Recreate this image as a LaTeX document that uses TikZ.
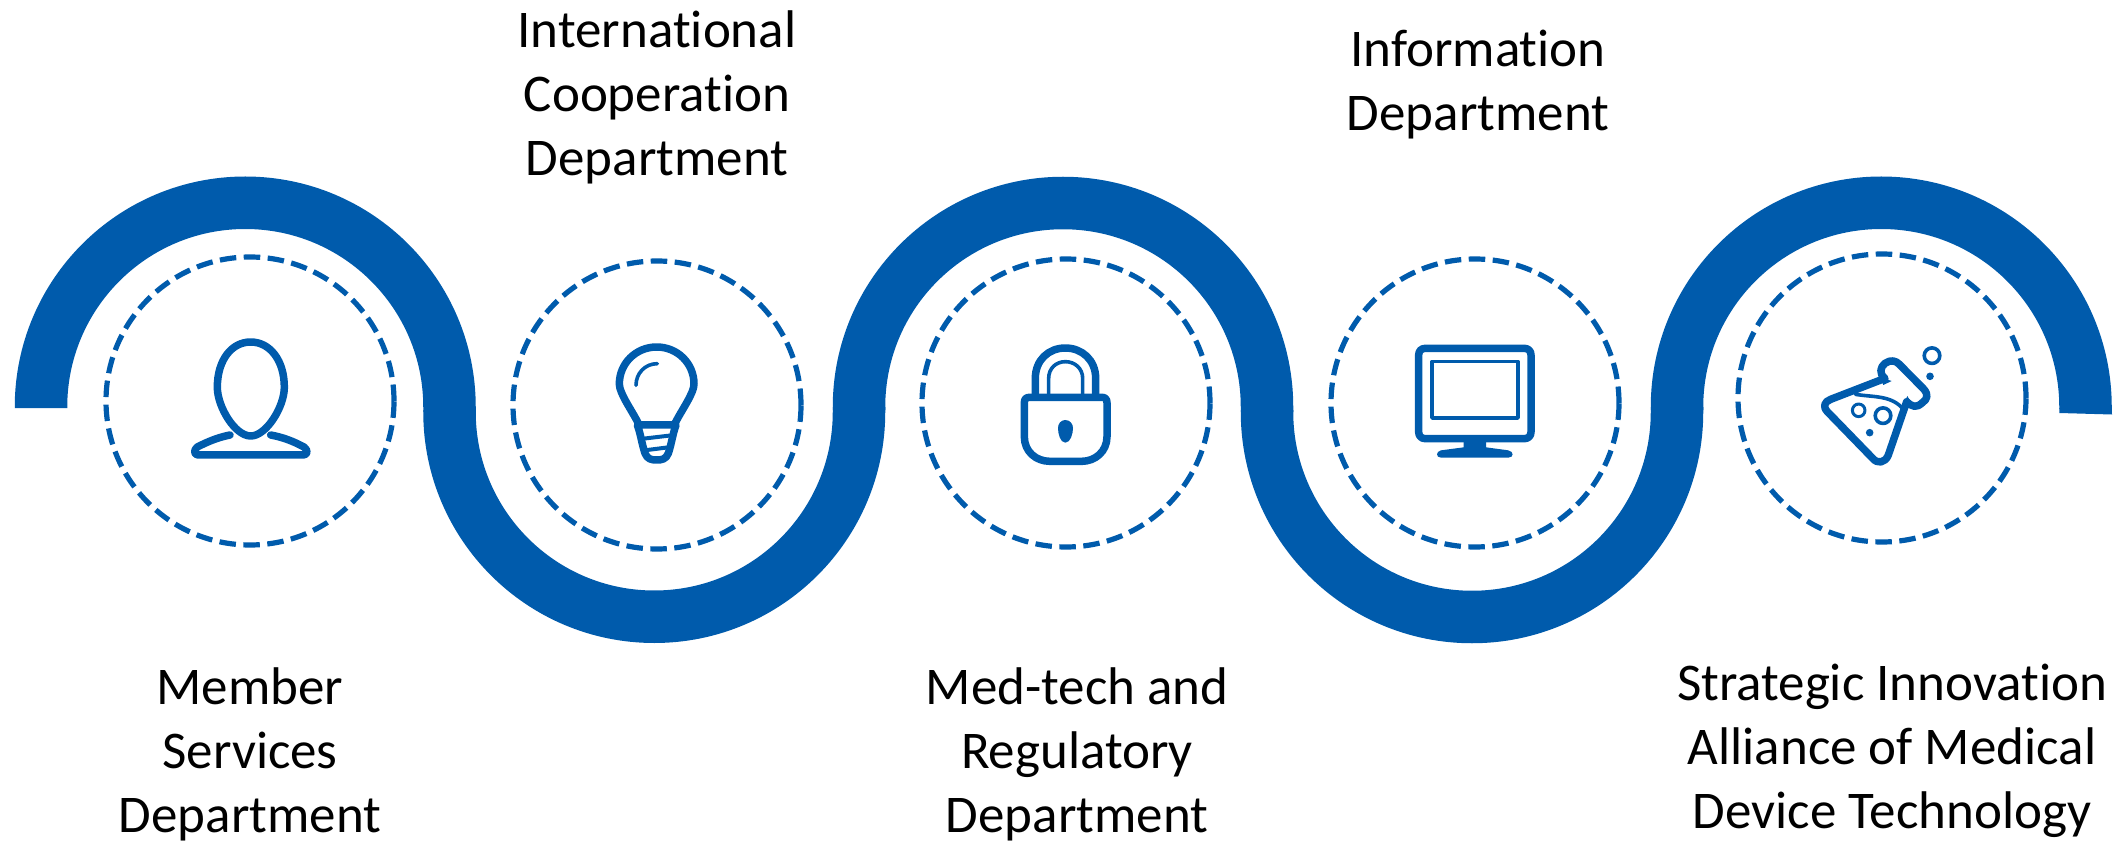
\documentclass[tikz,border=0pt]{standalone}
\usepackage{fontspec}
\setmainfont{Carlito}[Ligatures={NoCommon,NoContextual},RawFeature={-liga;-clig;-dlig;-calt}]
\definecolor{bandblue}{HTML}{005BAC}
\tikzset{
 band/.style={draw=bandblue,line width=52.5pt},
 dashring/.style={draw=bandblue,line width=5.2pt,dash pattern=on 16.5pt off 7.5pt},
 label/.style={align=center,text=black,inner sep=0pt,font=\fontsize{53pt}{64pt}\selectfont},
 icon/.style={draw=bandblue,line width=7.5pt,line join=round,line cap=round},
 iconthin/.style={draw=bandblue,line width=3.6pt,line join=round,line cap=round},
 iconfill/.style={fill=bandblue,draw=none},
 zoomA/.style={shift={(150,300)},x=0.33333pt,y=-0.33333pt},
 zoomB/.style={shift={(560,310)},x=0.33333pt,y=-0.33333pt},
 zoomC/.style={shift={(970,310)},x=0.33333pt,y=-0.33333pt},
 zoomD/.style={shift={(1390,310)},x=0.33333pt,y=-0.33333pt},
 zoomE/.style={shift={(1790,320)},x=0.33333pt,y=-0.33333pt},
}
\begin{document}
\begin{tikzpicture}[x=1pt,y=-1pt]
\useasboundingbox (0,0) rectangle (2118,842);
% ribbon
\draw[band] (41,408) -- (41,407) arc[start angle=180,end angle=0,radius=204.25pt] -- (449.5,412);
\draw[band] (449.5,410) -- (449.5,412) arc[start angle=180,end angle=360,radius=204.75pt] -- (859,407);
\draw[band] (859,410) -- (859,407) arc[start angle=180,end angle=0,radius=204pt] -- (1267,412);
\draw[band] (1267,410) -- (1267,412) arc[start angle=180,end angle=360,radius=205pt] -- (1677,407);
\draw[band] (1677,410) -- (1677,407) arc[start angle=180,end angle=0,radius=204.25pt] -- (2085.5,409);
\fill[bandblue] (2059.25,408) -- (2111.75,408) -- (2112,414.5) -- (2059.25,413) -- cycle;
% dashed rings
\node[dashring,circle,minimum size=288pt,inner sep=0pt] (r1) at (250,401) {};
\node[dashring,circle,minimum size=288pt,inner sep=0pt] (r2) at (657,405) {};
\node[dashring,circle,minimum size=288pt,inner sep=0pt] (r3) at (1066,403) {};
\node[dashring,circle,minimum size=288pt,inner sep=0pt] (r4) at (1475,403) {};
\node[dashring,circle,minimum size=288pt,inner sep=0pt] (r5) at (1882,398) {};
% person
\begin{scope}[zoomA]
\draw[icon] (302,126) .. controls (245,126) and (202,180) .. (202,262) .. controls (202,320) and (255,408) .. (302,408) .. controls (349,408) and (403,320) .. (403,262) .. controls (403,180) and (359,126) .. (302,126) -- cycle;
\draw[icon] (240,405) .. controls (205,412) and (175,424) .. (142,441) .. controls (130,450) and (132,465) .. (145,465) -- (460,465) .. controls (473,465) and (475,450) .. (462,441) .. controls (430,424) and (400,412) .. (362,405);
\end{scope}
% bulb
\begin{scope}[zoomB]
\draw[icon] (235,340) .. controls (215,300) and (178,250) .. (178,222) .. controls (178,160) and (228,111) .. (290,111) .. controls (352,111) and (402,160) .. (402,222) .. controls (402,250) and (365,300) .. (345,340);
\draw[icon] (232,345) .. controls (242,372) and (245,400) .. (255,430) .. controls (262,448) and (275,450) .. (290,450) .. controls (305,450) and (318,448) .. (325,430) .. controls (335,400) and (338,372) .. (348,345) -- cycle;
\draw[iconthin,line width=4pt] (250,386) -- (335,376);
\draw[iconthin,line width=4pt] (262,420) -- (325,412);
\draw[iconthin] (228,226) .. controls (228,190) and (255,161) .. (292,161);
\end{scope}
% lock
\begin{scope}[zoomC]
\draw[icon,line cap=butt] (196,255) -- (196,205) .. controls (196,150) and (236,114) .. (286,114) .. controls (336,114) and (377,150) .. (377,205) -- (377,255);
\draw[iconthin,line cap=butt] (236,255) -- (236,205) .. controls (236,175) and (258,155) .. (286,155) .. controls (314,155) and (338,175) .. (338,205) -- (338,255);
\draw[icon] (178,262) -- (396,262) .. controls (406,262) and (411,268) .. (411,278) -- (411,380) .. controls (411,425) and (375,454) .. (335,454) -- (240,454) .. controls (198,454) and (163,425) .. (163,380) -- (163,278) .. controls (163,268) and (168,262) .. (178,262) -- cycle;
\fill[iconfill] (286,330) .. controls (300,330) and (309,342) .. (309,354) .. controls (309,370) and (302,398) .. (286,398) .. controls (270,398) and (264,370) .. (264,354) .. controls (264,342) and (272,330) .. (286,330) -- cycle;
\end{scope}
% monitor
\begin{scope}[zoomD]
\draw[icon] (106,115) -- (403,115) .. controls (415,115) and (423,123) .. (423,135) -- (423,366) .. controls (423,378) and (415,386) .. (403,386) -- (106,386) .. controls (94,386) and (86,378) .. (86,366) -- (86,135) .. controls (86,123) and (94,115) .. (106,115) -- cycle;
\draw[iconthin] (126,155) -- (384,155) -- (384,324) -- (126,324) -- cycle;
\fill[iconfill] (221,390) -- (288,390) -- (288,412) -- (355,421) .. controls (372,424) and (372,443) .. (355,443) -- (153,443) .. controls (137,443) and (137,424) .. (153,421) -- (221,412) -- cycle;
\end{scope}
% flask
\begin{scope}[zoomE]
\draw[icon] (350,245) -- (295,405) .. controls (285,430) and (262,432) .. (248,415) -- (112,275) .. controls (98,260) and (103,245) .. (122,238) -- (285,175) .. controls (265,160) and (272,140) .. (285,130) .. controls (302,118) and (318,122) .. (328,133) -- (402,208) .. controls (416,225) and (412,238) .. (397,248) .. controls (380,264) and (368,262) .. (350,245);
\fill[iconfill] (270,172) -- (305,183) -- (280,195) -- cycle;
\fill[iconfill] (340,255) -- (352,228) -- (368,256) -- cycle;
\draw[iconthin] (196,223) .. controls (250,232) and (305,225) .. (340,268);
\draw[iconthin,line width=3pt] (206,271) circle[radius=6.3pt];
\draw[iconthin] (279,287) circle[radius=7.8pt];
\draw[iconthin] (426,107) circle[radius=7.8pt];
\fill[iconfill] (239,338) circle[radius=3.8pt];
\fill[iconfill] (420,169) circle[radius=3.8pt];
\end{scope}
% labels
\node[label] (t1) at (250,754) {Member\\Services\\Department};
\node[label] (t2) at (657,97) {International\\Cooperation\\Department};
\node[label] (t3) at (1077,754) {Med-tech and\\Regulatory\\Department};
\node[label] (t4) at (1478,85) {Information\\Department};
\node[label] (t5) at (1892,751) {Strategic Innovation\\Alliance of Medical\\Device Technology};
\end{tikzpicture}
\end{document}
